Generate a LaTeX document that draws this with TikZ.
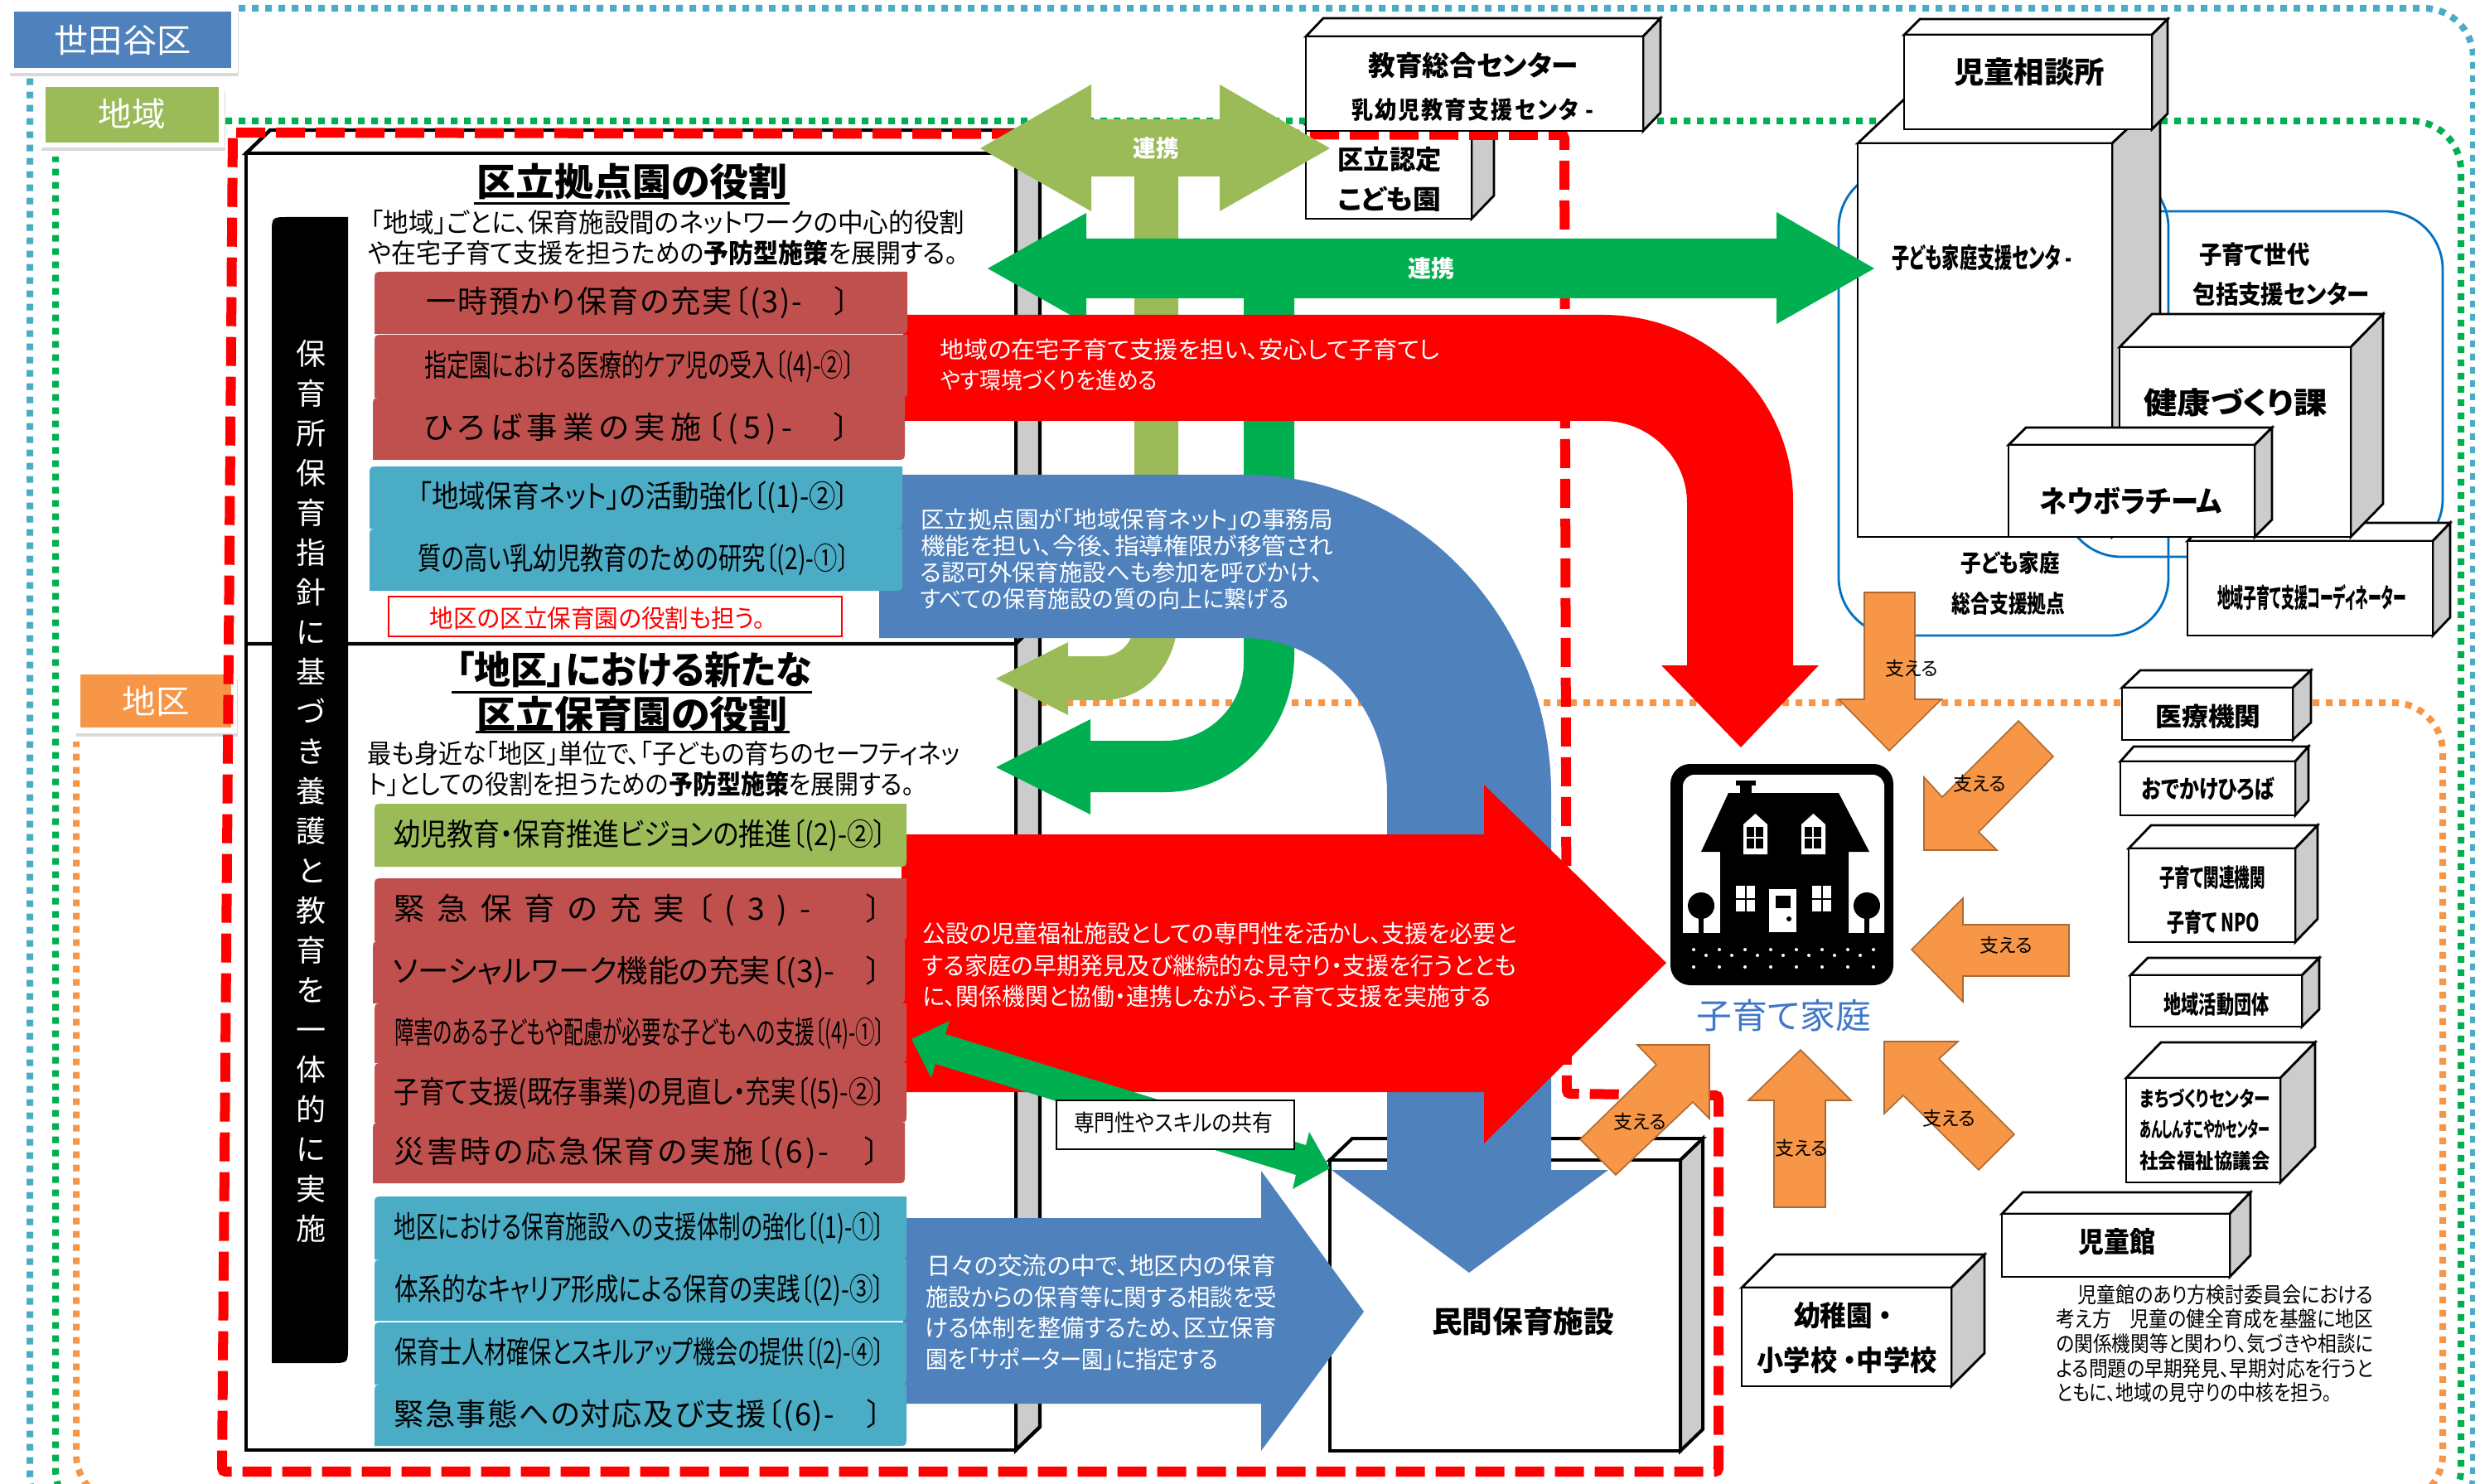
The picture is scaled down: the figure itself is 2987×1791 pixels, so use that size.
\documentclass[tikz,border=0pt]{standalone}
\usepackage{graphicx}
\usepackage{fontspec}
\setmainfont[RawFeature=+palt]{Noto Sans CJK JP}
\usepackage{xcolor}
\usepackage{tikz}

\definecolor{bluchiaro}{HTML}{4BACC6}
\definecolor{blu}{HTML}{4F81BD}
\definecolor{verdechiaro}{HTML}{9BBB59}
\definecolor{verde}{HTML}{00B050}
\definecolor{arancio}{HTML}{F79646}
\definecolor{rosso}{HTML}{C0504D}
\definecolor{azzurro}{HTML}{0070C0}
\definecolor{grigio}{HTML}{CCCCCC}
\definecolor{famiglia}{HTML}{3F78C8}

\newlength{\unitpx}
\setlength{\unitpx}{0.5pt}

% riga di testo: corpo, larghezza, testo
\newcommand{\riga}[3]{{\fontsize{#1}{#1}\selectfont\resizebox{#2\unitpx}{\height}{#3}}}
\newcommand{\spaziato}[1]{\addfontfeature{LetterSpace=#1}}

% scatola 3D: x0 y0 x1 y1 dx dy
\newcommand{\scatola}[7][1.4pt]{%
  \draw[line width=#1, fill=white] (#2,#3) -- ++(#6,#7) -- ++({#4-#2},0) -- (#4,#3) -- cycle;
  \draw[line width=#1, fill=grigio] (#4,#3) -- ++(#6,#7) -- ++(0,{#5-#3}) -- (#4,#5) -- cycle;
  \draw[line width=#1, fill=white] (#2,#3) rectangle (#4,#5);
}

% barra con due angoli arrotondati: colore, nome, x0 y0 x1 y1, centro testo, larghezza, testo
\newcommand{\barra}[9][rosso]{%
  \fill[#1] (#3,#6) -- (#3,{#4+12}) .. controls (#3,#4) .. ({#3+12},#4) -- (#5,#4)
    -- (#5,{#6-12}) .. controls (#5,#6) .. ({#5-12},#6) -- cycle;
  \node[testo] (#2) at (#7,{(#4+#6)/2}) {\riga{18.5}{#8}{#9}};
}

\tikzset{
  testo/.style={inner sep=0pt, outer sep=0pt},
  bianco/.style={testo, text=white},
  sottolineato/.style={line width=1.5pt},
  puntiblu/.style={line width=4pt, dash pattern=on 4pt off 4pt, rounded corners=30pt},
  tratteggiorosso/.style={red, line width=6pt, dash pattern=on 17.5pt off 6.5pt, rounded corners=2pt},
  frecciaarancio/.style={fill=arancio, draw=arancio!70!black, line width=0.8pt},
  sostiene/.style={testo, font=\fontsize{11.5}{12}\selectfont},
}

\begin{document}
\begin{tikzpicture}[x=0.5pt,y=-0.5pt]
  \clip (0,0) rectangle (2987,1791);
  \fill[white] (0,0) rectangle (2987,1791);

  % Bordi punteggiati
  \draw[puntiblu, bluchiaro] (288,10) -- (2985,10) -- (2985,1840) -- (36,1840) -- (36,91);
  \draw[puntiblu, verde] (272,146) -- (2970,146) -- (2970,1833) -- (67,1833) -- (67,189);
  \draw[puntiblu, arancio] (279,848) -- (2948,848) -- (2948,1815) -- (92,1815) -- (92,895);

  % Etichette
  \fill[black!15] (12,16) rectangle (288,92);
  \fill[white] (8,8) rectangle (287,88);
  \fill[blu] (17,14) rectangle (279,82);
  \node[bianco] (setagaya) at (148,48) {\riga{20}{165}{世田谷区}};
  \fill[black!15] (50,110) rectangle (272,182);
  \fill[white] (46,98) rectangle (271,178);
  \fill[verdechiaro] (55,105) rectangle (264,172);
  \node[bianco] (chiiki) at (159,137) {\riga{20}{81}{地域}};
  \fill[black!15] (92,820) rectangle (287,889);
  \fill[white] (88,808) rectangle (286,885);
  \fill[arancio] (97,814) rectangle (279,878);
  \node[bianco] (chiku) at (188,846) {\riga{20}{81}{地区}};

  % Riquadri azzurri
  \draw[azzurro, line width=1.4pt, rounded corners=35pt] (2219,205) rectangle (2617,767);
  \draw[azzurro, line width=1.4pt, rounded corners=35pt] (2490,255) rectangle (2948,672);

  % Scatola principale
  \scatola[2.2pt]{297}{185}{1226}{1750}{29}{-28}
  \draw[line width=2.2pt] (297,777) -- (1226,777) -- (1240,763);

  % Scatole in alto
  \scatola{1576}{150}{1776}{264}{27}{-28}
  \draw[tratteggiorosso] (281,160) -- (1888,163) -- (1891,1320) -- (2074,1322) -- (2074,1776) -- (268,1776) -- cycle;
  \scatola{1576}{44}{1983}{158}{21}{-22}
  \node[testo] (kyoiku) at (1778,79) {\riga{16.5}{253}{\bfseries 教育総合センター}};
  \node[testo] (nyuyoji) at (1777,133) {\riga{14.5}{292}{\bfseries\spaziato{8} 乳幼児教育支援センタ -}};
  \node[testo] (nintei) at (1677,192) {\riga{16}{125}{\bfseries 区立認定}};
  \node[testo] (kodomoen) at (1677,240) {\riga{16}{125}{\bfseries こども園}};

  % Scatole a destra
  \scatola{2242}{173}{2549}{648}{58}{-55}
  \node[testo] (shien) at (2392,311) {\riga{16.5}{217}{\bfseries 子ども家庭支援センタ -}};
  \scatola{2640}{653}{2936}{767}{21}{-22}
  \node[testo] (coord) at (2790,721) {\riga{16}{228}{\bfseries 地域子育て支援コーディネーター}};
  \scatola{2558}{419}{2837}{648}{39}{-40}
  \node[testo] (kenko) at (2698,486) {\riga{18}{222}{\bfseries 健康づくり課}};
  \scatola{2424}{537}{2721}{648}{21}{-21}
  \node[testo] (neubora) at (2572,604) {\riga{18}{220}{\bfseries ネウボラチーム}};
  \scatola{2298}{42}{2597}{156}{19}{-19}
  \node[testo] (jido) at (2449,87) {\riga{18}{182}{\bfseries 児童相談所}};
  \node[testo] (sedai) at (2721,307) {\riga{15}{133}{\bfseries 子育て世代}};
  \node[testo] (hokatsu) at (2753,355) {\riga{15}{213}{\bfseries 包括支援センター}};
  \node[testo] (katei) at (2426,680) {\riga{14.5}{119}{\bfseries 子ども家庭}};
  \node[testo] (kyoten) at (2424,728) {\riga{14.5}{137}{\bfseries 総合支援拠点}};

  \scatola{2561}{830}{2767}{893}{22}{-21}
  \node[testo] (iryo) at (2665,865) {\riga{15.5}{127}{\bfseries 医療機関}};
  \scatola{2559}{919}{2770}{984}{16}{-18}
  \node[testo] (odekake) at (2665,952) {\riga{15}{160}{\bfseries おでかけひろば}};
  \scatola{2569}{1024}{2770}{1137}{27}{-28}
  \node[testo] (kanren) at (2670,1059) {\riga{15}{128}{\bfseries 子育て関連機関}};
  \node[testo] (npo) at (2671,1113) {\riga{15}{112}{\bfseries 子育て NPO}};
  \scatola{2571}{1177}{2778}{1239}{21}{-21}
  \node[testo] (katsudo) at (2675,1212) {\riga{15}{127}{\bfseries 地域活動団体}};
  \scatola{2566}{1301}{2752}{1427}{42}{-43}
  \node[testo] (machi) at (2661,1326) {\riga{12.5}{157}{\bfseries まちづくりセンター}};
  \node[testo] (anshin) at (2661,1363) {\riga{12.5}{157}{\bfseries あんしんすこやかセンター}};
  \node[testo] (shakyo) at (2661,1401) {\riga{12.5}{157}{\bfseries 社会福祉協議会}};
  \scatola{2416}{1465}{2691}{1541}{25}{-26}
  \node[testo] (jidokan) at (2555,1499) {\riga{17}{93}{\bfseries 児童館}};
  \scatola{2102}{1554}{2355}{1673}{40}{-40}
  \node[testo] (yochien) at (2224,1588) {\riga{17}{118}{\bfseries 幼稚園 ・}};
  \node[testo] (gakko) at (2229,1642) {\riga{17}{217}{\bfseries 小学校 ・中学校}};

  % Testo sotto il Jidokan
  \node[testo] (kan1) at (2686,1563) {\riga{13}{357}{児童館のあり方検討委員会における}};
  \node[testo] (kan2) at (2673,1592) {\riga{13}{383}{考え方　児童の健全育成を基盤に地区}};
  \node[testo] (kan3) at (2673,1622) {\riga{13}{383}{の関係機関等と関わり、気づきや相談に}};
  \node[testo] (kan4) at (2673,1652) {\riga{13}{383}{よる問題の早期発見、早期対応を行うと}};
  \node[testo] (kan5) at (2648,1681) {\riga{13}{332}{ともに、地域の見守りの中核を担う。}};

  % Scatola nido privato
  \scatola[2pt]{1605}{1400}{2028}{1751}{27}{-26}
  \node[testo] (minkan) at (1838,1595) {\riga{18}{220}{\bfseries 民間保育施設}};

  % Freccia verde chiaro
  \fill[verdechiaro] (1183,179) -- (1317,102) -- (1317,144) -- (1472,144) -- (1472,102) -- (1605,179)
    -- (1472,255) -- (1472,213) -- (1422,213) -- (1422,740) .. controls (1422,800) and (1385,845) .. (1330,845)
    -- (1289,845) -- (1289,863) -- (1202,819) -- (1289,775) -- (1289,792) -- (1330,792)
    .. controls (1352,792) and (1369,775) .. (1369,750) -- (1369,213) -- (1317,213) -- (1317,255) -- cycle;
  \node[bianco] (renkei1) at (1395,179) {\riga{14}{55}{\bfseries 連携}};

  % Freccia verde
  \fill[verde] (1192,324) -- (1311,257) -- (1311,288) -- (2144,288) -- (2144,256) -- (2262,324)
    -- (2144,391) -- (2144,360) -- (1562,360) -- (1562,790) .. controls (1562,882) and (1492,956) .. (1406,956)
    -- (1316,956) -- (1316,983) -- (1202,926) -- (1316,868) -- (1316,894) -- (1406,894)
    .. controls (1458,894) and (1501,852) .. (1501,800) -- (1501,360) -- (1311,360) -- (1311,391) -- cycle;
  \node[bianco] (renkei2) at (1727,324) {\riga{14}{56}{\bfseries 連携}};

  % Freccia blu grande
  \fill[blu] (1061,573) -- (1502,573) .. controls (1706,573) and (1872,745) .. (1872,958) -- (1872,1412)
    -- (1941,1412) -- (1773,1536) -- (1607,1412) -- (1674,1412) -- (1674,958)
    .. controls (1674,854) and (1597,770) .. (1502,770) -- (1061,770) -- cycle;
  \node[bianco] (ao1) at (1360,627) {\riga{14}{498}{区立拠点園が「地域保育ネット」の事務局}};
  \node[bianco] (ao2) at (1360,659) {\riga{14}{498}{機能を担い、今後、指導権限が移管され}};
  \node[bianco] (ao3) at (1354,691) {\riga{14}{486}{る認可外保育施設へも参加を呼びかけ、}};
  \node[bianco] (ao4) at (1333,723) {\riga{14}{445}{すべての保育施設の質の向上に繋げる}};

  % Freccia rossa in alto
  \fill[red] (1090,380) -- (1935,380) .. controls (2061,380) and (2164,481) .. (2164,604) -- (2164,803)
    -- (2195,803) -- (2101,902) -- (2005,803) -- (2036,803) -- (2036,607)
    .. controls (2036,552) and (1990,508) .. (1935,508) -- (1090,508) -- cycle;
  \node[bianco] (aka1) at (1436,422) {\riga{14}{603}{地域の在宅子育て支援を担い、安心して子育てし}};
  \node[bianco] (aka2) at (1266,459) {\riga{14}{262}{やす環境づくりを進める}};

  % Freccia rossa grande
  \fill[red] (1088,1007) -- (1791,1007) -- (1791,947) -- (2011,1162) -- (1791,1380) -- (1791,1318) -- (1088,1318) -- cycle;
  \node[bianco] (aka3) at (1472,1127) {\riga{14.5}{717}{公設の児童福祉施設としての専門性を活かし、支援を必要と}};
  \node[bianco] (aka4) at (1472,1165) {\riga{14.5}{717}{する家庭の早期発見及び継続的な見守り・支援を行うととも}};
  \node[bianco] (aka5) at (1457,1202) {\riga{14.5}{686}{に、関係機関と協働・連携しながら、子育て支援を実施する}};

  % Freccia verde diagonale
  \fill[verde] (1100,1254) -- (1146,1232) -- (1141,1248) -- (1576,1382) -- (1580,1366) -- (1605,1410)
    -- (1560,1435) -- (1564,1418) -- (1129,1284) -- (1124,1301) -- cycle;
  \draw[fill=white, line width=0.8pt] (1275,1328) rectangle (1562,1387);
  \node[testo] (senmon) at (1416,1355) {\riga{14}{240}{専門性やスキルの共有}};

  % Freccia blu in basso
  \fill[blu] (1090,1470) -- (1522,1470) -- (1522,1413) -- (1646,1583) -- (1522,1751) -- (1522,1694) -- (1090,1694) -- cycle;
  \node[bianco] (nichi1) at (1329,1528) {\riga{14.5}{422}{日々の交流の中で、地区内の保育}};
  \node[bianco] (nichi2) at (1329,1565) {\riga{14.5}{424}{施設からの保育等に関する相談を受}};
  \node[bianco] (nichi3) at (1329,1602) {\riga{14.5}{424}{ける体制を整備するため、区立保育}};
  \node[bianco] (nichi4) at (1294,1640) {\riga{14.5}{353}{園を「サポーター園」に指定する}};

  % Barra nera
  \fill[black] (328,1645) -- (328,282) .. controls (328,262) .. (348,262) -- (420,262)
    -- (420,1625) .. controls (420,1645) .. (400,1645) -- cycle;
  \node[bianco, align=center, font=\fontsize{18}{24}\selectfont] (hoiku) at (375,955)
    {保\\育\\所\\保\\育\\指\\針\\に\\基\\づ\\き\\養\\護\\と\\教\\育\\を\\一\\体\\的\\に\\実\\施};

  % Ruolo del kyoten
  \node[testo] (titolo1) at (763,219) {\riga{23}{375}{\bfseries 区立拠点園の役割}};
  \draw[sottolineato] (572,246) -- (953,246);
  \node[testo] (ruolo1) at (806,268) {\riga{16}{717}{「地域」ごとに、保育施設間のネットワークの中心的役割}};
  \node[testo] (ruolo2) at (800,305) {\riga{16}{712}{や在宅子育て支援を担うための{\bfseries 予防型施策}を展開する。}};

  \barra{b1}{452}{328}{1095}{403}{770}{511}{\spaziato{5}一時預かり保育の充実〔(3)-　〕}
  \barra{b2}{452}{404}{1095}{480}{772}{519}{指定園における医療的ケア児の受入〔(4)-②〕}
  \barra{b3}{450}{480}{1092}{555}{768}{514}{\spaziato{17}ひろば事業の実施〔(5)-　〕}
  \barra[bluchiaro]{b4}{446}{563}{1089}{638}{765}{520}{「地域保育ネット」の活動強化〔(1)-②〕}
  \barra[bluchiaro]{b5}{446}{638}{1089}{713}{765}{520}{質の高い乳幼児教育のための研究〔(2)-①〕}

  \draw[red, line width=0.8pt, fill=white] (469,720) rectangle (1016,768);
  \node[testo, text=red] (anche) at (721,746) {\riga{15}{405}{地区の区立保育園の役割も担う。}};

  % Ruolo del chiku
  \node[testo] (titolo2) at (765,808) {\riga{23}{429}{\bfseries 「地区」における新たな}};
  \draw[sottolineato] (545,835) -- (980,835);
  \node[testo] (titolo3) at (763,862) {\riga{23}{375}{\bfseries 区立保育園の役割}};
  \draw[sottolineato] (574,883) -- (953,883);
  \node[testo] (ruolo3) at (801,909) {\riga{16}{715}{最も身近な「地区」単位で、「子どもの育ちのセーフティネッ}};
  \node[testo] (ruolo4) at (774,946) {\riga{16}{659}{ト」としての役割を担うための{\bfseries 予防型施策}を展開する。}};

  \barra[verdechiaro]{b6}{452}{970}{1094}{1046}{773}{595}{幼児教育・保育推進ビジョンの推進〔(2)-②〕}
  \barra{b7}{452}{1060}{1094}{1136}{770}{589}{\spaziato{40}緊急保育の充実〔(3)-　〕}
  \barra{b8}{450}{1136}{1092}{1211}{769}{590}{ソーシャルワーク機能の充実〔(3)-　〕}
  \barra{b9}{452}{1211}{1094}{1283}{772}{592}{障害のある子どもや配慮が必要な子どもへの支援〔(4)-①〕}
  \barra{b10}{452}{1283}{1094}{1355}{773}{594}{子育て支援(既存事業)の見直し・充実〔(5)-②〕}
  \barra{b11}{450}{1355}{1092}{1428}{769}{586}{\spaziato{8}災害時の応急保育の実施〔(6)-　〕}
  \barra[bluchiaro]{b12}{452}{1444}{1094}{1520}{772}{592}{地区における保育施設への支援体制の強化〔(1)-①〕}
  \barra[bluchiaro]{b13}{452}{1520}{1094}{1594}{772}{592}{体系的なキャリア形成による保育の実践〔(2)-③〕}
  \barra[bluchiaro]{b14}{452}{1596}{1094}{1671}{772}{592}{保育士人材確保とスキルアップ機会の提供〔(2)-④〕}
  \barra[bluchiaro]{b15}{452}{1671}{1094}{1745}{770}{589}{\spaziato{4}緊急事態への対応及び支援〔(6)-　〕}

  % Frecce arancioni
  \filldraw[frecciaarancio] (2250,715) -- (2311,715) -- (2311,844) -- (2343,844) -- (2280,906) -- (2219,844) -- (2250,844) -- cycle;
  \node[sostiene] (a1) at (2307,807) {支える};
  \filldraw[frecciaarancio] (2436,870) -- (2478,913) -- (2388,1004) -- (2410,1026) -- (2322,1026) -- (2322,938) -- (2344,962) -- cycle;
  \node[sostiene] (a2) at (2389,946) {支える};
  \filldraw[frecciaarancio] (2307,1146) -- (2369,1084) -- (2369,1116) -- (2497,1116) -- (2497,1178) -- (2369,1178) -- (2369,1209) -- cycle;
  \node[sostiene] (a3) at (2421,1141) {支える};
  \filldraw[frecciaarancio] (2274,1257) -- (2363,1257) -- (2340,1278) -- (2431,1369) -- (2388,1412) -- (2297,1322) -- (2274,1344) -- cycle;
  \node[sostiene] (a4) at (2352,1350) {支える};
  \filldraw[frecciaarancio] (2173,1267) -- (2234,1328) -- (2203,1328) -- (2203,1457) -- (2141,1457) -- (2141,1328) -- (2110,1328) -- cycle;
  \node[sostiene] (a5) at (2174,1386) {支える};
  \filldraw[frecciaarancio] (1976,1261) -- (2063,1261) -- (2063,1350) -- (2043,1330) -- (1950,1418) -- (1907,1375) -- (1999,1285) -- cycle;
  \node[sostiene] (a6) at (1979,1354) {支える};

  % Icona della casa
  \fill[black, rounded corners=12pt] (2016,922) rectangle (2285,1189);
  \fill[white, rounded corners=7pt] (2031,935) rectangle (2274,1140);
  \fill[black] (2020,1126) rectangle (2280,1170);
  \fill (2086,957) -- (2219,957) -- (2256,1028) -- (2231,1028) -- (2231,1126) -- (2076,1126) -- (2076,1028) -- (2053,1028) -- cycle;
  \fill (2095,942) rectangle (2119,948);
  \fill (2100,948) rectangle (2114,960);
  \foreach \wx in {2104,2174} {
    \fill[white] (\wx,1031) -- ({\wx+29},1031) -- ({\wx+29},995) -- ({\wx+14.5},982) -- (\wx,995) -- cycle;
    \foreach \px in {0,1} \foreach \py in {0,1}
      \fill[black] ({\wx+4+10.5*\px},{998+14*\py}) rectangle ++(9,12);
  }
  \foreach \wx in {2095,2187} {
    \fill[white] (\wx,1069) rectangle ++(23,31);
    \fill[black] ({\wx+10.5},1069) rectangle ++(2,31);
    \fill[black] (\wx,1083.5) rectangle ++(23,2);
  }
  \fill[white] (2135,1073) rectangle (2168,1125);
  \fill[black] (2143,1081) rectangle (2161,1096);
  \fill[black] (2159,1109) circle[radius=3];
  \foreach \tx in {2053,2253} {
    \fill[black] (\tx,1093) circle[radius=16];
    \fill[black] ({\tx-3},1093) rectangle ({\tx+3},1126);
  }
  \foreach \dx in {0,...,7} {
    \fill[white] ({2044+31*\dx},1146) circle[radius=2];
    \fill[white] ({2044+31*\dx},1167) circle[radius=2];
  }
  \foreach \dx in {0,...,6}
    \fill[white] ({2059+31*\dx},1153) circle[radius=2];
  \node[testo, text=famiglia] (kosodate) at (2153,1226) {\riga{21}{211}{子育て家庭}};
\end{tikzpicture}
\end{document}
